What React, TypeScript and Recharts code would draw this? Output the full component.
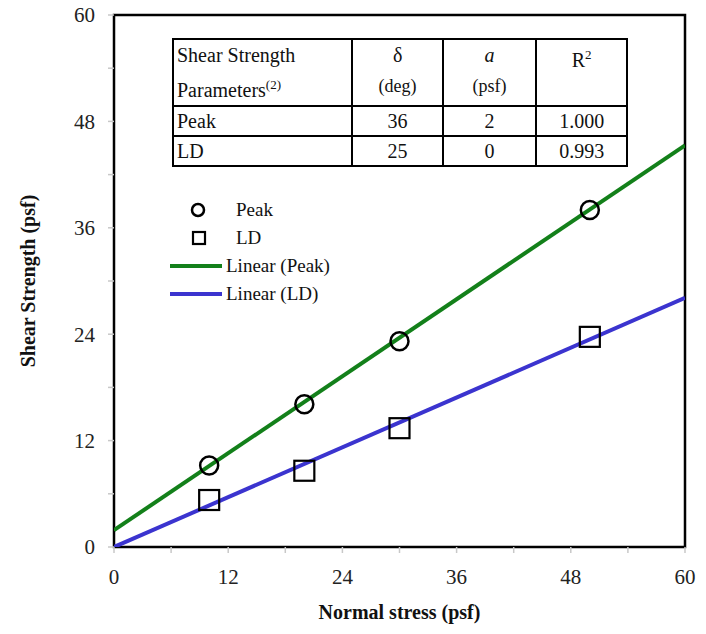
import React from 'react';
import { ComposedChart, Line, Scatter, XAxis, YAxis, ReferenceArea } from 'recharts';

// measured points
const normalStress = [10, 20, 30, 50];
const peakStrength = [9.2, 16.1, 23.2, 38.0];
const ldStrength = [5.3, 8.6, 13.4, 23.7];

// trendline end points
const fitStress = [0, 60];
const peakFit = [1.9, 45.3];
const ldFit = [0, 28.1];

const axisTicks = [0, 6, 12, 18, 24, 30, 36, 42, 48, 54, 60];

// table
const paramNames = ['Peak', 'LD'];
const deltaDeg = ['36', '25'];
const cohesionPsf = ['2', '0'];
const rSquared = ['1.000', '0.993'];

const legendLabels = ['Peak', 'LD', 'Linear (Peak)', 'Linear (LD)'];

const GREEN = '#13801a';
const BLUE = '#3b34cf';
const FONT = '"Liberation Serif", "Times New Roman", serif';

const peakPts = normalStress.map((x, i) => ({ x, y: peakStrength[i] }));
const ldPts = normalStress.map((x, i) => ({ x, y: ldStrength[i] }));
const peakLine = fitStress.map((x, i) => ({ x, y: peakFit[i] }));
const ldLine = fitStress.map((x, i) => ({ x, y: ldFit[i] }));

function XTick(props: any) {
  const { x, y, payload } = props;
  if (payload.value % 12 !== 0) return null;
  return (
    <text x={x} y={y} dy="0.71em" textAnchor="middle" fontSize={21} fill="#222" fontFamily={FONT}>
      {payload.value}
    </text>
  );
}

function YTick(props: any) {
  const { x, y, payload } = props;
  if (payload.value % 12 !== 0) return null;
  return (
    <text x={x} y={y} dy="0.35em" textAnchor="end" fontSize={21} fill="#222" fontFamily={FONT}>
      {payload.value}
    </text>
  );
}

function XTitle(props: any) {
  const vb = props.viewBox;
  return (
    <text x={vb.x + vb.width / 2} y={vb.y + 72} textAnchor="middle" fontFamily={FONT} fontWeight="bold" fontSize={20} fill="#111">
      Normal stress (psf)
    </text>
  );
}

const circleShape = (p: any) => (
  <circle cx={p.cx} cy={p.cy} r={9} fill="none" stroke="#000" strokeWidth={2.5} />
);
const squareShape = (p: any) => (
  <rect x={p.cx - 10} y={p.cy - 10} width={20} height={20} fill="none" stroke="#000" strokeWidth={2.2} />
);

const cell: React.CSSProperties = { border: '2px solid #000', padding: '0 3px', lineHeight: '26px' };
const head: React.CSSProperties = { ...cell, textAlign: 'center', verticalAlign: 'top', lineHeight: '30px' };

function ParamTable() {
  return (
    <table
      style={{
        position: 'absolute', left: 172, top: 38, width: 456, borderCollapse: 'collapse',
        fontFamily: FONT, fontSize: 20, color: '#111', background: '#fff',
      }}
    >
      <colgroup>
        <col style={{ width: 180 }} />
        <col style={{ width: 91 }} />
        <col style={{ width: 94 }} />
        <col style={{ width: 91 }} />
      </colgroup>
      <tbody>
        <tr style={{ height: 62 }}>
          <td style={{ ...head, textAlign: 'left' }}>
            Shear Strength<br />Parameters<sup style={{ fontSize: 13 }}>(2)</sup>
          </td>
          <td style={head}>
            δ<br /><span style={{ fontSize: 18 }}>(deg)</span>
          </td>
          <td style={head}>
            <i>a</i><br /><span style={{ fontSize: 18 }}>(psf)</span>
          </td>
          <td style={head}>
            R<sup style={{ fontSize: 13 }}>2</sup>
          </td>
        </tr>
        {paramNames.map((n, i) => (
          <tr key={n} style={{ height: 30 }}>
            <td style={cell}>{n}</td>
            <td style={{ ...cell, textAlign: 'center' }}>{deltaDeg[i]}</td>
            <td style={{ ...cell, textAlign: 'center' }}>{cohesionPsf[i]}</td>
            <td style={{ ...cell, textAlign: 'center' }}>{rSquared[i]}</td>
          </tr>
        ))}
      </tbody>
    </table>
  );
}

function LegendBox() {
  const marks = [
    <svg width={56} height={20} key="c"><circle cx={28} cy={10} r={6} fill="none" stroke="#000" strokeWidth={2.5} /></svg>,
    <svg width={56} height={20} key="s"><rect x={23} y={4} width={12} height={12} fill="none" stroke="#000" strokeWidth={2.2} /></svg>,
    <svg width={56} height={20} key="g"><line x1={0} y1={10} x2={52} y2={10} stroke={GREEN} strokeWidth={4} /></svg>,
    <svg width={56} height={20} key="b"><line x1={0} y1={10} x2={52} y2={10} stroke={BLUE} strokeWidth={4} /></svg>,
  ];
  return (
    <div style={{ position: 'absolute', left: 170, top: 196, fontFamily: FONT, fontSize: 19, color: '#111' }}>
      {legendLabels.map((l, i) => (
        <div key={l} style={{ display: 'flex', alignItems: 'center', height: 28 }}>
          {marks[i]}
          <span style={{ marginLeft: i < 2 ? 10 : 0 }}>{l}</span>
        </div>
      ))}
    </div>
  );
}

export default function App() {
  return (
    <div style={{ position: 'relative', width: 706, height: 626, marginLeft: -8, marginTop: -8 }}>
      <ComposedChart
        width={706}
        height={626}
        margin={{ top: 15, right: 21, bottom: 0, left: 14 }}
        style={{ overflow: 'visible' }}
      >
        <XAxis
          type="number"
          dataKey="x"
          domain={[0, 60]}
          ticks={axisTicks}
          allowDataOverflow
          axisLine={false}
          tickLine={{ stroke: '#c8c8c8', strokeWidth: 1.5 }}
          tickSize={6}
          tickMargin={16}
          tick={<XTick />}
          height={79}
          label={<XTitle />}
        />
        <YAxis
          type="number"
          dataKey="y"
          domain={[0, 60]}
          ticks={axisTicks}
          allowDataOverflow
          axisLine={false}
          tickLine={{ stroke: '#c8c8c8', strokeWidth: 1.5 }}
          tickSize={6}
          tickMargin={13}
          tick={<YTick />}
          width={100}
          label={{
            value: 'Shear Strength (psf)', angle: -90, position: 'insideLeft', offset: 14,
            style: { fontFamily: FONT, fontWeight: 'bold', fontSize: 20, fill: '#111', textAnchor: 'middle' },
          }}
        />
        <Line data={peakLine} dataKey="y" stroke={GREEN} strokeWidth={4} dot={false} isAnimationActive={false} legendType="none" />
        <Line data={ldLine} dataKey="y" stroke={BLUE} strokeWidth={4} dot={false} isAnimationActive={false} legendType="none" />
        <Scatter data={peakPts} dataKey="y" shape={circleShape} isAnimationActive={false} />
        <Scatter data={ldPts} dataKey="y" shape={squareShape} isAnimationActive={false} />
        <ReferenceArea x1={0} x2={60} y1={0} y2={60} fill="none" stroke="#000" strokeWidth={2.5} ifOverflow="visible" />
      </ComposedChart>
      <ParamTable />
      <LegendBox />
    </div>
  );
}
